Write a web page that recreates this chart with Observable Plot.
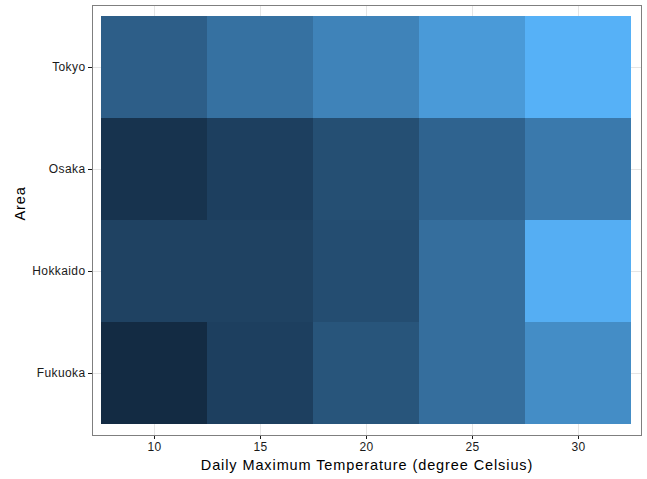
<!DOCTYPE html>
<html><head><meta charset="utf-8">
<script src="https://cdn.jsdelivr.net/npm/d3@7"></script>
<script src="https://cdn.jsdelivr.net/npm/@observablehq/plot@0.6"></script>
<style>
body{margin:0;background:#fff}
#chart svg{display:block}
#chart svg text{letter-spacing:0.4px}
#chart svg g[aria-label="text"] text{letter-spacing:0.9px}
</style>
</head><body><div id="chart"></div>
<script>
const areas = ["Tokyo", "Osaka", "Hokkaido", "Fukuoka"];
const temps = [10, 15, 20, 25, 30];
const tokyo = [41, 55, 68, 84, 100];
const osaka = [7, 17, 29, 45, 61];
const hokkaido = [19, 19, 28, 53, 98];
const fukuoka = [0, 17, 34, 53, 75];
const xTitle = "Daily Maximum Temperature (degree Celsius)";
const yTitle = "Area";

const seriesByArea = {Tokyo: tokyo, Osaka: osaka, Hokkaido: hokkaido, Fukuoka: fukuoka};
const data = areas.flatMap(a => temps.map((t, i) => ({area: a, temp: t, value: seriesByArea[a][i]})));

const chart = Plot.plot({
  width: 647,
  height: 479,
  marginLeft: 92,
  marginRight: 6,
  marginTop: 5,
  marginBottom: 44,
  style: {fontFamily: "Liberation Sans, Arial, sans-serif", fontSize: "12px", color: "#1a1a1a", background: "#fff"},
  x: {domain: [7.5, 32.5], range: [101, 631], ticks: temps, tickSize: 4, tickPadding: 3, label: null},
  y: {type: "band", domain: areas, range: [14, 425], padding: 0, tickSize: 4, tickPadding: 3, label: null},
  color: {type: "linear", range: ["#132B43", "#56B1F7"], interpolate: "lab"},
  marks: [
    Plot.ruleX(temps, {stroke: "#E5E5E5", strokeWidth: 1}),
    Plot.ruleY(areas, {y: d => d, stroke: "#E5E5E5", strokeWidth: 1}),
    Plot.barX(data, {x1: d => d.temp - 2.5, x2: d => d.temp + 2.5, y: "area", fill: "value", inset: 0, shapeRendering: "crispEdges"}),
    Plot.frame({stroke: "#7F7F7F", strokeWidth: 1}),
    Plot.text([xTitle], {frameAnchor: "bottom", dy: 34, fontSize: 14.5, fill: "#000"}),
    Plot.text([yTitle], {frameAnchor: "left", dx: -72, rotate: -90, fontSize: 14.5, fill: "#000"})
  ]
});
document.getElementById("chart").append(chart);
</script>
</body></html>
